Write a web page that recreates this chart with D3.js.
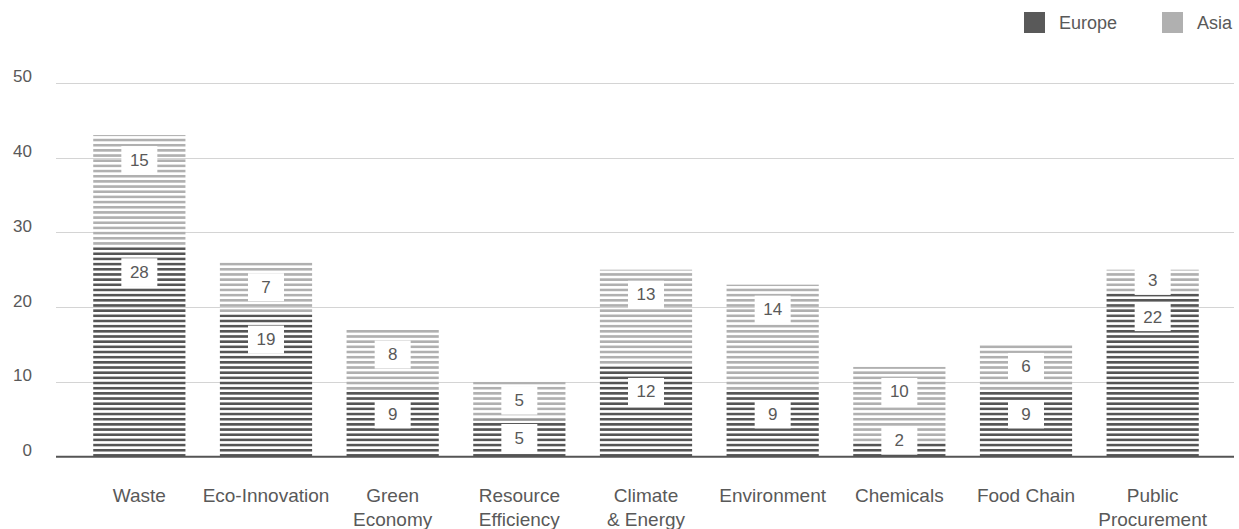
<!DOCTYPE html>
<html>
<head>
<meta charset="utf-8">
<script src="https://cdn.jsdelivr.net/npm/d3@7"></script>
<style>
  html, body { margin: 0; padding: 0; background: #fff; }
  svg { display: block; font-family: "Liberation Sans", Arial, sans-serif; }
</style>
</head>
<body>
<svg id="chart" width="1239" height="529"></svg>
<script>
// Projects per policy area, split by region
const categories = ["Waste", "Eco-Innovation", "Green Economy", "Resource Efficiency",
  "Climate & Energy", "Environment", "Chemicals", "Food Chain", "Public Procurement"];
const categoryLines = [["Waste"], ["Eco-Innovation"], ["Green", "Economy"], ["Resource", "Efficiency"],
  ["Climate", "& Energy"], ["Environment"], ["Chemicals"], ["Food Chain"], ["Public", "Procurement"]];
const europe = [28, 19, 9, 5, 12, 9, 2, 9, 22];
const asia = [15, 7, 8, 5, 13, 14, 10, 6, 3];
const seriesNames = ["Europe", "Asia"];
const yTicks = [0, 10, 20, 30, 40, 50];

const colors = { Europe: "#555555", Asia: "#b0b0b0" };
const textColor = "#595959";

const svg = d3.select("#chart");

const x = d3.scaleBand()
  .domain(categories)
  .range([76, 1216])
  .paddingInner(0.272)
  .paddingOuter(0.136);

const y = d3.scaleLinear().domain([0, 50]).range([456.7, 82.7]);

// Stripe patterns, anchored to the baseline so stacked segments line up
const defs = svg.append("defs");
const pitch = 5.17;
seriesNames.forEach(name => {
  const p = defs.append("pattern")
    .attr("id", "stripes-" + name)
    .attr("patternUnits", "userSpaceOnUse")
    .attr("x", 0)
    .attr("y", y(0))
    .attr("width", 20)
    .attr("height", pitch);
  p.append("rect")
    .attr("x", 0).attr("y", pitch - 2.6)
    .attr("width", 20).attr("height", 2.6)
    .attr("fill", colors[name]);
});

// Gridlines
svg.append("g")
  .selectAll("line")
  .data(yTicks.filter(d => d > 0))
  .join("line")
  .attr("x1", 56).attr("x2", 1234)
  .attr("y1", d => Math.round(y(d)) + 0.5)
  .attr("y2", d => Math.round(y(d)) + 0.5)
  .attr("stroke", "#d4d4d4")
  .attr("stroke-width", 1);

// Y tick labels
svg.append("g")
  .selectAll("text")
  .data(yTicks)
  .join("text")
  .attr("x", 32)
  .attr("y", d => y(d) - 6)
  .attr("text-anchor", "end")
  .attr("dominant-baseline", "central")
  .attr("font-size", 17)
  .attr("fill", textColor)
  .text(d => d);

// Stacked data
const rows = categories.map((c, i) => ({ category: c, Europe: europe[i], Asia: asia[i] }));
const stacked = d3.stack().keys(seriesNames)(rows);

const layers = svg.append("g")
  .selectAll("g")
  .data(stacked)
  .join("g")
  .attr("fill", d => `url(#stripes-${d.key})`);

layers.selectAll("rect")
  .data(d => d)
  .join("rect")
  .attr("x", d => x(d.data.category))
  .attr("width", x.bandwidth())
  .attr("y", d => y(d[1]))
  .attr("height", d => y(d[0]) - y(d[1]));

// Baseline
svg.append("line")
  .attr("x1", 56).attr("x2", 1234)
  .attr("y1", y(0)).attr("y2", y(0))
  .attr("stroke", "#555")
  .attr("stroke-width", 2);

// Value labels on white boxes
const labelData = [];
stacked.forEach(layer => {
  layer.forEach(d => {
    const top = y(d[1]), bottom = y(d[0]);
    let cy = top + Math.min(25, (bottom - top) / 2);
    cy = Math.min(cy, y(0) - 16);
    labelData.push({ cx: x(d.data.category) + x.bandwidth() / 2, cy, value: d[1] - d[0] });
  });
});

const labels = svg.append("g")
  .selectAll("g")
  .data(labelData)
  .join("g")
  .attr("transform", d => `translate(${d.cx},${d.cy})`);

labels.append("rect")
  .attr("x", -18).attr("y", -14)
  .attr("width", 36).attr("height", 28)
  .attr("fill", "#fff");

labels.append("text")
  .attr("text-anchor", "middle")
  .attr("dominant-baseline", "central")
  .attr("font-size", 17)
  .attr("fill", textColor)
  .text(d => d.value);

// Category labels
const catLabels = svg.append("g")
  .selectAll("text")
  .data(categories)
  .join("text")
  .attr("x", d => x(d) + x.bandwidth() / 2)
  .attr("y", 495)
  .attr("text-anchor", "middle")
  .attr("dominant-baseline", "central")
  .attr("font-size", 19)
  .attr("fill", textColor);

catLabels.selectAll("tspan")
  .data((d, i) => categoryLines[i])
  .join("tspan")
  .attr("x", function () { return d3.select(this.parentNode).attr("x"); })
  .attr("dy", (d, i) => i === 0 ? 0 : 24)
  .text(d => d);

// Legend
const legendX = [1024, 1162];
const legend = svg.append("g")
  .selectAll("g")
  .data(seriesNames)
  .join("g")
  .attr("transform", (d, i) => `translate(${legendX[i]},12)`);

legend.append("rect")
  .attr("width", 21).attr("height", 21)
  .attr("fill", d => d === "Europe" ? "#595959" : "#b0b0b0");

legend.append("text")
  .attr("x", 35)
  .attr("y", 11)
  .attr("dominant-baseline", "central")
  .attr("font-size", 18)
  .attr("fill", textColor)
  .text(d => d);
</script>
</body>
</html>
